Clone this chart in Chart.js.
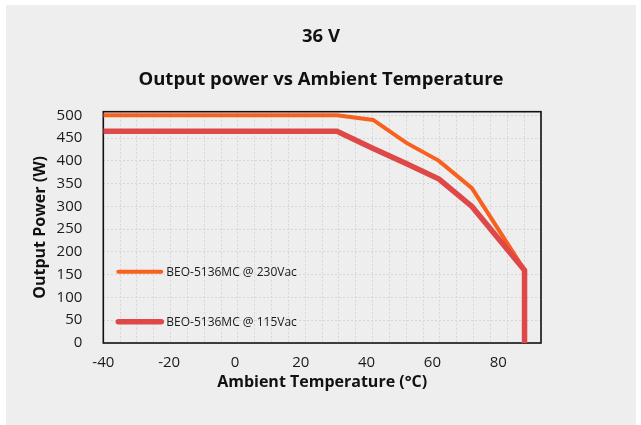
<!DOCTYPE html>
<html>
<head>
<meta charset="utf-8">
<script src="https://cdn.jsdelivr.net/npm/chart.js@4"></script>
<style>
  html, body { margin: 0; padding: 0; background: #fff; }
  #wrap { position: absolute; left: 6px; top: 5px; width: 630px; height: 420px; background: #eeeeee; }
</style>
</head>
<body>
<div id="wrap"><canvas id="chart" width="630" height="420"></canvas></div>
<script>
// ambient temperature (°C) and output power (W)
const temps = [-40, 31, 42, 52, 62, 72, 88, 88];
const power230 = [500, 500, 490, 440, 400, 340, 160, null];
const power115 = [465, 465, 427, 394, 360, 300, 160, 0];
const seriesLabels = ['BEO-5136MC @ 230Vac', 'BEO-5136MC @ 115Vac'];
const xTickLabels = [-40, -20, 0, 20, 40, 60, 80];
const yTickLabels = [0, 50, 100, 150, 200, 250, 300, 350, 400, 450, 500];

Chart.defaults.font.family = "'Open Sans', sans-serif";
Chart.defaults.color = '#1a1a1a';

function toPoints(values) {
  const pts = [];
  for (let i = 0; i < temps.length; i++) {
    if (values[i] !== null) pts.push({ x: temps[i], y: values[i] });
  }
  return pts;
}

// frame around the plot area
const plotFrame = {
  id: 'plotFrame',
  beforeDatasetsDraw(chart) {
    const { ctx, chartArea } = chart;
    ctx.save();
    ctx.strokeStyle = '#111';
    ctx.lineWidth = 1.6;
    ctx.strokeRect(chartArea.left, chartArea.top, chartArea.right - chartArea.left, chartArea.bottom - chartArea.top);
    ctx.restore();
  }
};

// legend drawn inside the plot, bottom left
const insideLegend = {
  id: 'insideLegend',
  afterDatasetsDraw(chart) {
    const { ctx, chartArea } = chart;
    ctx.save();
    chart.data.datasets.forEach(function (ds, i) {
      const y = chartArea.top + 160 + i * 50;
      ctx.strokeStyle = ds.borderColor;
      ctx.lineWidth = ds.borderWidth;
      ctx.lineCap = 'round';
      ctx.beginPath();
      ctx.moveTo(chartArea.left + 15, y);
      ctx.lineTo(chartArea.left + 58, y);
      ctx.stroke();
      ctx.fillStyle = '#1a1a1a';
      ctx.font = "12px 'Open Sans', sans-serif";
      ctx.textBaseline = 'middle';
      ctx.fillText(ds.label, chartArea.left + 63, y + 1);
    });
    ctx.restore();
  }
};

const ctx = document.getElementById('chart').getContext('2d');
const chart = new Chart(ctx, {
  type: 'line',
  data: {
    datasets: [{
      label: seriesLabels[0],
      data: toPoints(power230),
      borderColor: '#F7601D',
      borderWidth: 4,
      order: 1
    }, {
      label: seriesLabels[1],
      data: toPoints(power115),
      borderColor: '#DF4848',
      borderWidth: 5.5,
      order: 0
    }]
  },
  options: {
    responsive: false,
    animation: false,
    layout: { padding: { left: 0, right: 0, top: 0, bottom: 32 } },
    elements: {
      point: { radius: 0 },
      line: { tension: 0, borderJoinStyle: 'miter', borderCapStyle: 'butt' }
    },
    plugins: {
      legend: { display: false },
      tooltip: { enabled: false },
      title: {
        display: true,
        text: '36 V',
        color: '#111',
        font: { size: 18.5, weight: 'bold' },
        padding: { top: 21, bottom: 10 }
      },
      subtitle: {
        display: true,
        text: 'Output power vs Ambient Temperature',
        color: '#111',
        font: { size: 18.5, weight: 'bold' },
        padding: { top: 10.7, bottom: 20.6 }
      }
    },
    scales: {
      x: {
        type: 'linear',
        position: 'bottom',
        min: -40,
        max: 93,
        grid: { display: false, drawTicks: false },
        border: { display: false },
        ticks: {
          stepSize: 20,
          autoSkip: false,
          includeBounds: false,
          maxRotation: 0,
          padding: 11,
          font: { size: 15 },
          callback: function (v) { return xTickLabels.includes(v) ? String(v) : ''; }
        },
        title: {
          display: true,
          text: 'Ambient Temperature (°C)',
          color: '#111',
          font: { size: 16, weight: 'bold' },
          padding: { top: 0, bottom: 1.4 }
        },
        afterFit: function (s) { s.height = 50; }
      },
      x2: {
        type: 'linear',
        position: 'bottom',
        min: 0,
        max: 26,
        grid: { color: '#d6d6d6', drawTicks: false },
        border: { display: false, dash: [2, 2] },
        ticks: { display: false, stepSize: 1 },
        afterFit: function (s) { s.height = 0; }
      },
      y: {
        min: 0,
        max: 508,
        grid: { color: '#d6d6d6', drawTicks: false },
        border: { display: false, dash: [2, 2] },
        ticks: {
          stepSize: 50,
          autoSkip: false,
          includeBounds: false,
          padding: 21,
          font: { size: 15 },
          callback: function (v) { return yTickLabels.includes(v) ? String(v) : ''; }
        },
        title: {
          display: true,
          text: 'Output Power (W)',
          color: '#111',
          font: { size: 16, weight: 'bold' },
          padding: { top: 24.4, bottom: 0 }
        },
        afterFit: function (s) { s.width = 97.3; }
      },
      // empty right-hand strip so the titles centre on the whole canvas
      yRight: {
        position: 'right',
        min: 0,
        max: 1,
        grid: { display: false, drawTicks: false },
        border: { display: false },
        ticks: { display: false },
        afterFit: function (s) { s.width = 95; }
      }
    }
  },
  plugins: [plotFrame, insideLegend]
});
</script>
</body>
</html>
